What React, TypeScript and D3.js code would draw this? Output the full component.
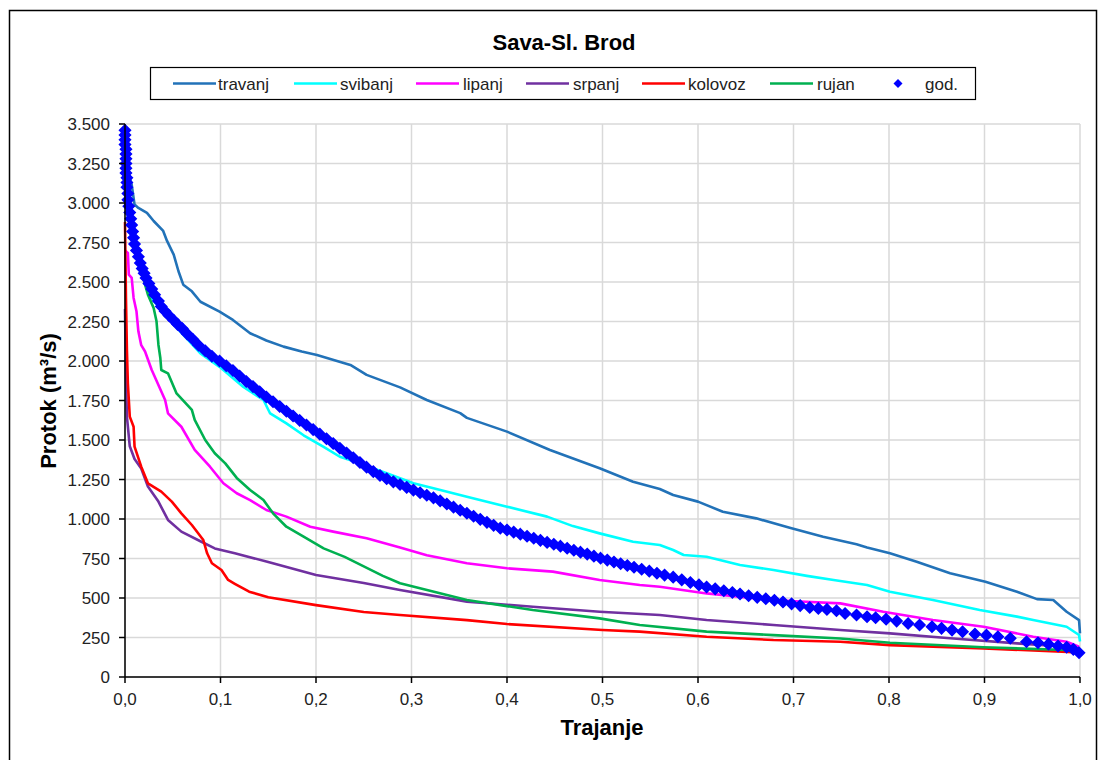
import React from "react";
import * as d3 from "d3";

type P = [number, number];

const title = "Sava-Sl. Brod";
const xTitle = "Trajanje";
const yTitle = "Protok (m³/s)";
const xTicks = [0, 0.1, 0.2, 0.3, 0.4, 0.5, 0.6, 0.7, 0.8, 0.9, 1.0];
const yTicks = [0, 250, 500, 750, 1000, 1250, 1500, 1750, 2000, 2250, 2500, 2750, 3000, 3250, 3500];

const travanj: P[] = [[0,3300],[0.004,3180],[0.007,3116],[0.010,2990],[0.014,2969],[0.023,2937],[0.030,2886],[0.040,2823],[0.044,2760],[0.051,2673],[0.056,2568],[0.061,2483],[0.070,2441],[0.079,2375],[0.099,2312],[0.113,2260],[0.131,2176],[0.148,2130],[0.166,2091],[0.185,2060],[0.201,2038],[0.236,1975],[0.253,1912],[0.288,1833],[0.316,1753],[0.351,1670],[0.358,1640],[0.400,1553],[0.445,1437],[0.497,1321],[0.532,1236],[0.560,1190],[0.574,1152],[0.600,1110],[0.626,1046],[0.661,1004],[0.696,945],[0.731,888],[0.766,840],[0.777,820],[0.801,783],[0.829,730],[0.864,656],[0.901,603],[0.934,540],[0.955,493],[0.972,487],[0.986,413],[0.999,360],[1.0,276]];
const svibanj: P[] = [[0,3150],[0.005,2900],[0.015,2600],[0.028,2398],[0.042,2290],[0.059,2180],[0.079,2048],[0.099,1963],[0.124,1836],[0.145,1753],[0.152,1668],[0.169,1605],[0.187,1530],[0.208,1457],[0.225,1394],[0.246,1352],[0.274,1289],[0.302,1226],[0.323,1194],[0.358,1141],[0.400,1078],[0.442,1015],[0.469,955],[0.497,909],[0.532,856],[0.560,835],[0.574,804],[0.585,772],[0.609,761],[0.644,709],[0.679,677],[0.714,640],[0.742,614],[0.777,582],[0.801,540],[0.846,487],[0.895,424],[0.934,382],[0.951,361],[0.986,318],[0.999,266],[1.0,225]];
const lipanj: P[] = [[0,2700],[0.003,2684],[0.004,2547],[0.007,2526],[0.009,2399],[0.012,2315],[0.014,2188],[0.017,2100],[0.021,2060],[0.028,1943],[0.042,1753],[0.045,1669],[0.059,1584],[0.073,1437],[0.089,1331],[0.103,1226],[0.117,1163],[0.131,1120],[0.148,1057],[0.169,1015],[0.194,951],[0.218,920],[0.253,878],[0.288,820],[0.316,770],[0.358,720],[0.400,688],[0.448,667],[0.497,614],[0.539,582],[0.560,571],[0.609,529],[0.679,487],[0.707,478],[0.749,466],[0.794,413],[0.846,361],[0.899,318],[0.951,255],[0.986,223],[0.999,192]];
const srpanj: P[] = [[0,2330],[0.001,1900],[0.002,1648],[0.005,1460],[0.010,1380],[0.017,1320],[0.024,1205],[0.035,1110],[0.045,994],[0.059,920],[0.080,856],[0.094,814],[0.115,783],[0.150,728],[0.200,645],[0.250,595],[0.288,551],[0.358,477],[0.427,445],[0.497,413],[0.560,392],[0.609,361],[0.679,329],[0.749,297],[0.801,276],[0.864,245],[0.934,213],[0.986,192],[0.999,171]];
const kolovoz: P[] = [[0,2880],[0.001,2400],[0.002,2070],[0.003,1859],[0.005,1648],[0.009,1584],[0.010,1458],[0.017,1331],[0.024,1226],[0.038,1173],[0.049,1110],[0.059,1036],[0.070,962],[0.082,867],[0.086,783],[0.091,720],[0.101,677],[0.108,614],[0.115,590],[0.130,540],[0.150,505],[0.200,455],[0.250,411],[0.288,392],[0.358,360],[0.400,335],[0.500,297],[0.539,287],[0.609,255],[0.679,234],[0.749,223],[0.801,202],[0.899,181],[0.999,156]];
const rujan: P[] = [[0,3000],[0.010,2740],[0.021,2483],[0.024,2420],[0.030,2336],[0.033,2251],[0.035,2103],[0.037,2019],[0.038,1943],[0.045,1922],[0.054,1795],[0.070,1690],[0.073,1627],[0.084,1500],[0.094,1416],[0.105,1352],[0.117,1260],[0.131,1184],[0.145,1120],[0.155,1036],[0.169,951],[0.187,888],[0.208,814],[0.230,760],[0.250,700],[0.270,640],[0.288,593],[0.358,487],[0.427,424],[0.497,371],[0.539,329],[0.609,287],[0.679,265],[0.749,244],[0.801,217],[0.899,188],[0.986,171],[0.999,165]];
const god: P[] = [[0,3460],[0,3430],[0,3400],[0,3370],[0.001,3340],[0.001,3310],[0.001,3280],[0.001,3250],[0.001,3220],[0.001,3190],[0.002,3160],[0.002,3130],[0.002,3100],[0.003,3060],[0.003,3020],[0.004,2980],[0.005,2940],[0.006,2900],[0.007,2860],[0.008,2820],[0.009,2780],[0.010,2740],[0.012,2700],[0.014,2660],[0.016,2620],[0.018,2585],[0.020,2555],[0.022,2525],[0.025,2490],[0.028,2455],[0.031,2420],[0.035,2380],[0.038,2345],[0.042,2315],[0.046,2288],[0.051,2258],[0.055,2232],[0.060,2205],[0.065,2172],[0.071,2138],[0.077,2100],[0.084,2065],[0.091,2030],[0.099,2000],[0.106,1970],[0.113,1940],[0.120,1905],[0.127,1870],[0.134,1838],[0.141,1805],[0.148,1772],[0.155,1742],[0.162,1712],[0.169,1682],[0.176,1652],[0.183,1624],[0.190,1595],[0.197,1566],[0.204,1537],[0.211,1508],[0.218,1478],[0.225,1448],[0.232,1418],[0.239,1388],[0.246,1358],[0.253,1328],[0.260,1300],[0.267,1275],[0.274,1255],[0.281,1235],[0.288,1218],[0.295,1200],[0.302,1183],[0.309,1166],[0.316,1150],[0.323,1134],[0.330,1115],[0.337,1095],[0.344,1075],[0.351,1055],[0.358,1036],[0.365,1017],[0.372,998],[0.379,979],[0.386,960],[0.393,942],[0.400,930],[0.407,917],[0.414,904],[0.421,891],[0.428,878],[0.435,865],[0.442,852],[0.449,840],[0.456,828],[0.463,815],[0.470,802],[0.477,790],[0.484,778],[0.491,765],[0.498,752],[0.505,740],[0.512,728],[0.519,717],[0.526,706],[0.533,695],[0.541,682],[0.549,670],[0.557,657],[0.565,645],[0.574,632],[0.583,615],[0.592,598],[0.601,583],[0.609,570],[0.618,558],[0.627,546],[0.636,535],[0.644,525],[0.653,514],[0.662,504],[0.671,495],[0.680,486],[0.689,475],[0.698,463],[0.707,452],[0.717,440],[0.726,434],[0.735,428],[0.745,419],[0.754,402],[0.766,392],[0.777,381],[0.786,375],[0.797,366],[0.808,354],[0.820,339],[0.832,329],[0.845,318],[0.855,308],[0.866,297],[0.877,286],[0.890,272],[0.902,265],[0.914,255],[0.927,245],[0.944,223],[0.956,217],[0.967,208],[0.977,196],[0.986,188],[0.993,175],[0.999,154]];

const seriesNames = ["travanj", "svibanj", "lipanj", "srpanj", "kolovoz", "rujan"];
const seriesData = [travanj, svibanj, lipanj, srpanj, kolovoz, rujan];
const seriesColors = ["#2272B8", "#00FFFF", "#FF00FF", "#7030A0", "#FF0000", "#00B050"];
const godName = "god.";
const godColor = "#0000FF";

const FONT = "'Liberation Sans', Arial, sans-serif";

const diamond = (r: number) => `M0,${-r}L${r},0L0,${r}L${-r},0Z`;

export default function App() {
  const x = d3.scaleLinear().domain([0, 1]).range([125, 1080]);
  const y = d3.scaleLinear().domain([0, 3500]).range([677, 124]);
  const line = d3.line<P>().x((d) => x(d[0])).y((d) => y(d[1]));
  const fmtY = (v: number) => d3.format(",")(v).replace(/,/g, ".");
  const fmtX = (v: number) => d3.format(".1f")(v).replace(".", ",");

  const legendItems = [
    { lx: 173, tx: 218 },
    { lx: 294, tx: 340 },
    { lx: 416, tx: 463 },
    { lx: 526, tx: 573 },
    { lx: 642, tx: 688 },
    { lx: 770, tx: 817 },
  ];

  return (
    <svg
      width={1105}
      height={760}
      style={{ position: "fixed", left: 0, top: 0, background: "#fff", fontFamily: FONT }}
    >
      <rect x={0} y={0} width={1105} height={760} fill="#fff" />
      <rect x={9.5} y={10.5} width={1087} height={800} fill="none" stroke="#000" strokeWidth={1.5} />
      <text x={564} y={50} textAnchor="middle" fontSize={22} fontWeight="bold" fill="#000">
        {title}
      </text>

      {/* gridlines */}
      {yTicks.map((t) => (
        <line key={"gy" + t} x1={x(0)} x2={x(1)} y1={y(t)} y2={y(t)} stroke="#D9D9D9" strokeWidth={1.5} />
      ))}
      {xTicks.map((t) => (
        <line key={"gx" + t} x1={x(t)} x2={x(t)} y1={y(0)} y2={y(3500)} stroke="#D9D9D9" strokeWidth={1.5} />
      ))}

      {/* series */}
      {seriesData.map((d, i) => (
        <path key={seriesNames[i]} d={line(d) || ""} fill="none" stroke={seriesColors[i]} strokeWidth={2.6} strokeLinejoin="round" />
      ))}
      {god.map((d, i) => (
        <path key={"g" + i} d={diamond(5.5)} transform={`translate(${x(d[0])},${y(d[1])})`} fill={godColor} stroke={godColor} strokeWidth={1.5} strokeLinejoin="miter" />
      ))}

      {/* axes */}
      <line x1={x(0)} x2={x(0)} y1={y(3500)} y2={y(0)} stroke="#000" strokeWidth={1.5} />
      <line x1={x(0)} x2={x(1)} y1={y(0)} y2={y(0)} stroke="#000" strokeWidth={1.5} />
      {yTicks.map((t) => (
        <g key={"ty" + t}>
          <line x1={x(0) - 6} x2={x(0)} y1={y(t)} y2={y(t)} stroke="#000" strokeWidth={1.5} />
          <text x={110} y={y(t) + 6} textAnchor="end" fontSize={17} fill="#222">
            {fmtY(t)}
          </text>
        </g>
      ))}
      {xTicks.map((t) => (
        <g key={"tx" + t}>
          <line x1={x(t)} x2={x(t)} y1={y(0)} y2={y(0) + 6} stroke="#000" strokeWidth={1.5} />
          <text x={x(t)} y={705} textAnchor="middle" fontSize={17} fill="#222">
            {fmtX(t)}
          </text>
        </g>
      ))}
      <text x={602} y={735} textAnchor="middle" fontSize={22} fontWeight="bold" fill="#000">
        {xTitle}
      </text>
      <text transform={`translate(56,401) rotate(-90)`} textAnchor="middle" fontSize={22} fontWeight="bold" fill="#000">
        {yTitle}
      </text>

      {/* legend */}
      <rect x={150.5} y={67.5} width={825} height={32} fill="#fff" stroke="#000" strokeWidth={1.2} />
      {seriesNames.map((n, i) => (
        <g key={"l" + n}>
          <line x1={legendItems[i].lx} x2={legendItems[i].lx + 43} y1={83.5} y2={83.5} stroke={seriesColors[i]} strokeWidth={2.6} />
          <text x={legendItems[i].tx} y={89.5} fontSize={17} fill="#222">
            {n}
          </text>
        </g>
      ))}
      <path d={diamond(4.5)} transform="translate(898,83.5)" fill={godColor} />
      <text x={925} y={89.5} fontSize={17} fill="#222">
        {godName}
      </text>
    </svg>
  );
}
